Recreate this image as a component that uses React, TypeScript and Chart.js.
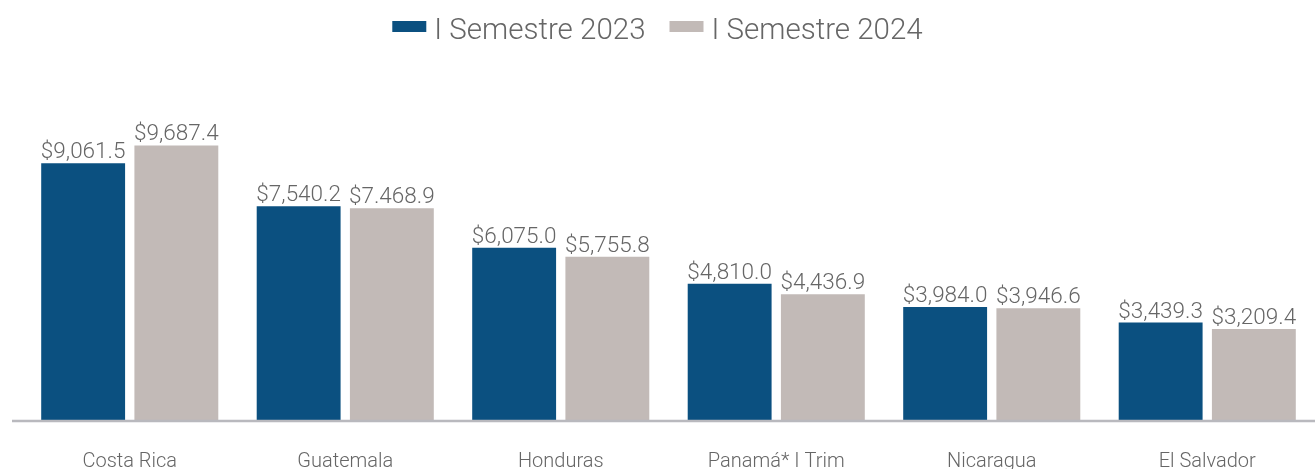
import React, { useEffect, useRef } from "react";
import { Chart, registerables } from "chart.js";

Chart.register(...registerables);

const categories = ["Costa Rica", "Guatemala", "Honduras", "Panamá* I Trim", "Nicaragua", "El Salvador"];
const seriesNames = ["I Semestre 2023", "I Semestre 2024"];
const values2023 = [9061.5, 7540.2, 6075.0, 4810.0, 3984.0, 3439.3];
const values2024 = [9687.4, 7468.9, 5755.8, 4436.9, 3946.6, 3209.4];
const labels2023 = ["$9,061.5", "$7,540.2", "$6,075.0", "$4,810.0", "$3,984.0", "$3,439.3"];
const labels2024 = ["$9,687.4", "$7.468.9", "$5,755.8", "$4,436.9", "$3,946.6", "$3,209.4"];
const colors = ["#0B5080", "#C2BAB7"];
const textColor = "#666666";
const fontFamily = "Roboto, 'Noto Sans', sans-serif";

const customPlugin = {
  id: "customDraw",
  afterDraw(chart: any) {
    const ctx = chart.ctx;
    ctx.save();
    // legend
    ctx.font = `300 29.5px ${fontFamily}`;
    const boxW = 34, boxH = 11, gapBox = 8, gapItem = 24;
    const widths = seriesNames.map((n) => ctx.measureText(n).width);
    const total = widths.reduce((a, w) => a + boxW + gapBox + w, 0) + gapItem * (seriesNames.length - 1);
    let x = (chart.width - total) / 2;
    ctx.textAlign = "left";
    ctx.textBaseline = "alphabetic";
    seriesNames.forEach((n, i) => {
      ctx.fillStyle = colors[i];
      ctx.fillRect(x, 21, boxW, boxH);
      x += boxW + gapBox;
      ctx.fillStyle = textColor;
      ctx.fillText(n, x, 39);
      x += widths[i] + gapItem;
    });
    ctx.restore();
  },
  afterDatasetsDraw(chart: any) {
    const ctx = chart.ctx;
    const lists = [labels2023, labels2024];
    ctx.save();
    const y = chart.chartArea.bottom + 1;
    ctx.strokeStyle = "#B9B9BE";
    ctx.lineWidth = 2.5;
    ctx.beginPath();
    ctx.moveTo(12, y);
    ctx.lineTo(chart.width, y);
    ctx.stroke();
    ctx.font = `300 22.5px ${fontFamily}`;
    ctx.fillStyle = textColor;
    ctx.textAlign = "center";
    ctx.textBaseline = "alphabetic";
    chart.data.datasets.forEach((ds: any, di: number) => {
      const meta = chart.getDatasetMeta(di);
      meta.data.forEach((bar: any, i: number) => {
        ctx.fillText(lists[di][i], bar.x, bar.y - 5);
      });
    });
    ctx.restore();
  },
};

export default function App() {
  const ref = useRef<HTMLCanvasElement | null>(null);
  useEffect(() => {
    if (!ref.current) return;
    const chart = new Chart(ref.current, {
      type: "bar",
      data: {
        labels: categories,
        datasets: [
          { label: seriesNames[0], data: values2023, backgroundColor: colors[0], barPercentage: 0.9, categoryPercentage: 0.865 },
          { label: seriesNames[1], data: values2024, backgroundColor: colors[1], barPercentage: 0.9, categoryPercentage: 0.865 },
        ],
      },
      options: {
        animation: false,
        responsive: false,
        maintainAspectRatio: false,
        layout: { padding: { left: 22, right: 0, top: 60, bottom: 0 } },
        plugins: {
          legend: { display: false },
          tooltip: { enabled: false },
        },
        scales: {
          x: {
            grid: { display: false, drawTicks: false },
            border: { display: false },
            ticks: { color: textColor, padding: 30, font: { family: fontFamily, size: 20, weight: "300" } },
            afterFit: (scale: any) => {
              scale.height = 70;
            },
          },
          y: { display: false, min: 0, max: 12700 },
        },
      },
      plugins: [customPlugin],
    });
    return () => chart.destroy();
  }, []);
  return (
    <div style={{ position: "fixed", left: 0, top: 0, width: 1315, height: 469, overflow: "hidden", background: "#fff" }}>
      <canvas ref={ref} width={1315} height={490} style={{ display: "block" }} />
    </div>
  );
}
